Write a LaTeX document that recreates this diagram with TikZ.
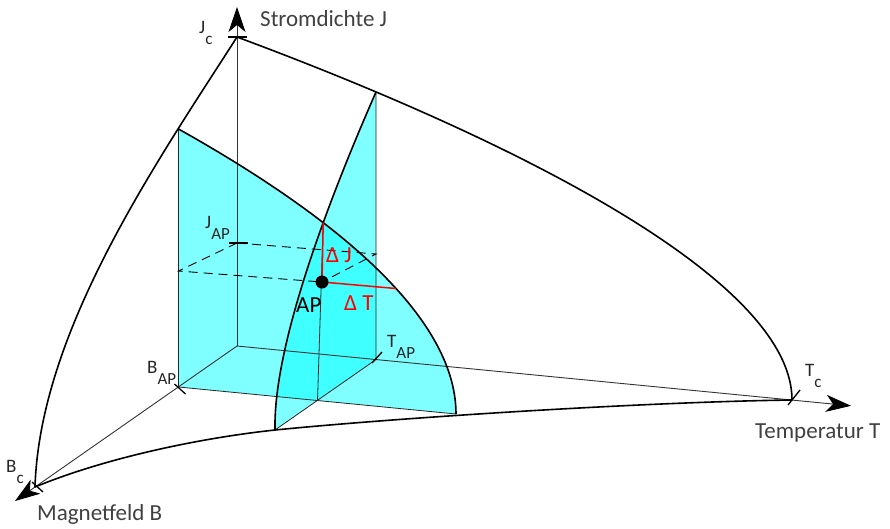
\documentclass[tikz,border=0pt]{standalone}
\usepackage{fontspec}
\setmainfont{Carlito}
\usetikzlibrary{arrows.meta,intersections}
\definecolor{txtgray}{HTML}{404040}
\definecolor{lblgray}{HTML}{262626}
\definecolor{aqua}{RGB}{0,255,255}
\newcommand{\sublbl}[2]{{\fontsize{19}{22}\selectfont #1}{\fontsize{17}{20}\selectfont\raisebox{-11pt}{#2}}}
\begin{document}
\begin{tikzpicture}[x=1pt,y=-1pt,
  axisline/.style={line width=0.9pt,black!80},
  thinedge/.style={line width=0.8pt,black!85},
  curveline/.style={line width=1.6pt,black},
  dashline/.style={line width=0.9pt,black,dash pattern=on 9pt off 6pt},
  tickline/.style={line width=1.3pt,black},
  redline/.style={line width=1.5pt,red},
  planefill/.style={fill=aqua,fill opacity=0.5},
  axtitle/.style={text=txtgray,inner sep=0pt,anchor=base west,font=\fontsize{23}{27}\selectfont},
  sublabel/.style={text=lblgray,inner sep=0pt,anchor=base west},
  biglabel/.style={inner sep=0pt,anchor=base west,font=\fontsize{23}{27}\selectfont},
  arr/.style={-{Stealth[length=25pt,width=17pt,inset=7pt,color=black]}}]
\useasboundingbox (0,0) rectangle (890,528);
% key points
\coordinate (O) at (237,346);
\coordinate (Jtip) at (237,7);
\coordinate (Jc) at (237,37);
\coordinate (JAP) at (237,243);
\coordinate (Ttip) at (851,405.8);
\coordinate (Tc) at (792,400);
\coordinate (TAP) at (376,359.5);
\coordinate (Btip) at (15,501);
\coordinate (Bc) at (35,487);
\coordinate (BAP) at (178.5,387);
\coordinate (Q) at (317.5,400.5);
\coordinate (A1) at (178.5,129);
\coordinate (A2) at (456,414);
\coordinate (C1) at (376,92);
\coordinate (C2) at (275,430);
\coordinate (AP) at (322,282);
\coordinate (D1) at (178.5,271);
\coordinate (D2) at (376,254);
\coordinate (DT) at (396,288.5);
% planes
\fill[planefill] (BAP) -- (A1) .. controls (328.5,213) and (456,314) .. (A2) -- cycle;
\fill[planefill] (TAP) -- (C1) .. controls (336,183) and (273,340) .. (C2) -- cycle;
% axes
\draw[axisline,arr] (O) -- (Jtip);
\draw[axisline,arr] (O) -- (Ttip);
\draw[axisline,arr] (O) -- (Btip);
% plane edges
\draw[thinedge] (A1) -- (BAP) -- (A2);
\draw[thinedge] (C1) -- (TAP) -- (C2);
% surface boundary curves
\draw[curveline] (Jc) .. controls (517,141) and (792,280) .. (Tc);
\draw[curveline] (Jc) .. controls (157,162) and (40,330) .. (Bc);
\draw[curveline] (Bc) .. controls (105,458) and (200,438) .. (C2) .. controls (395,418) and (642,402) .. (Tc);
% plane curves
\draw[curveline,name path=cA] (A1) .. controls (328.5,213) and (456,314) .. (A2);
\draw[curveline,name path=cB] (C1) .. controls (336,183) and (273,340) .. (C2);
\path[name intersections={of=cA and cB,by=I}];
\draw[thinedge] (I) -- (Q);
% dashed projections
\draw[dashline] (JAP) -- (D1) -- (AP);
\draw[dashline] (JAP) -- (D2) -- (AP);
% delta lines
\draw[redline] (I) -- (AP) -- (DT);
\fill[black] (AP) circle (6.5);
% ticks
\draw[tickline] (228,37) -- (247,37);
\draw[tickline] (229,243) -- (248,243);
\draw[tickline] ([shift={(-4,-3)}]BAP) -- ([shift={(7,7)}]BAP);
\draw[tickline] ([shift={(-3,-5)}]Bc) -- ([shift={(8,5)}]Bc);
\draw[tickline] ([shift={(-4,3.5)}]TAP) -- ([shift={(6,-7.5)}]TAP);
\draw[tickline] ([shift={(-4,5)}]Tc) -- ([shift={(8,-10)}]Tc);
% labels
\node[axtitle] (lJ) at (260,26) {Stromdichte J};
\node[axtitle] (lT) at (755,438) {Temperatur T};
\node[axtitle] (lB) at (37,520) {Magnetfeld B};
\node[sublabel] (lJc) at (199,33) {\sublbl{J}{c}};
\node[sublabel] (lJAP) at (205,228) {\sublbl{J}{AP}};
\node[sublabel] (lBAP) at (147,373) {\sublbl{B}{AP}};
\node[sublabel] (lTAP) at (387,347) {\sublbl{T}{AP}};
\node[sublabel] (lTc) at (805,376) {\sublbl{T}{c}};
\node[sublabel] (lBc) at (6,472) {\sublbl{B}{c}};
\node[biglabel] (lAP) at (296,312) {AP};
\node[biglabel,text=red] (lDJ) at (326,262) {Δ J};
\node[biglabel,text=red] (lDT) at (344,310) {Δ T};
\end{tikzpicture}
\end{document}
